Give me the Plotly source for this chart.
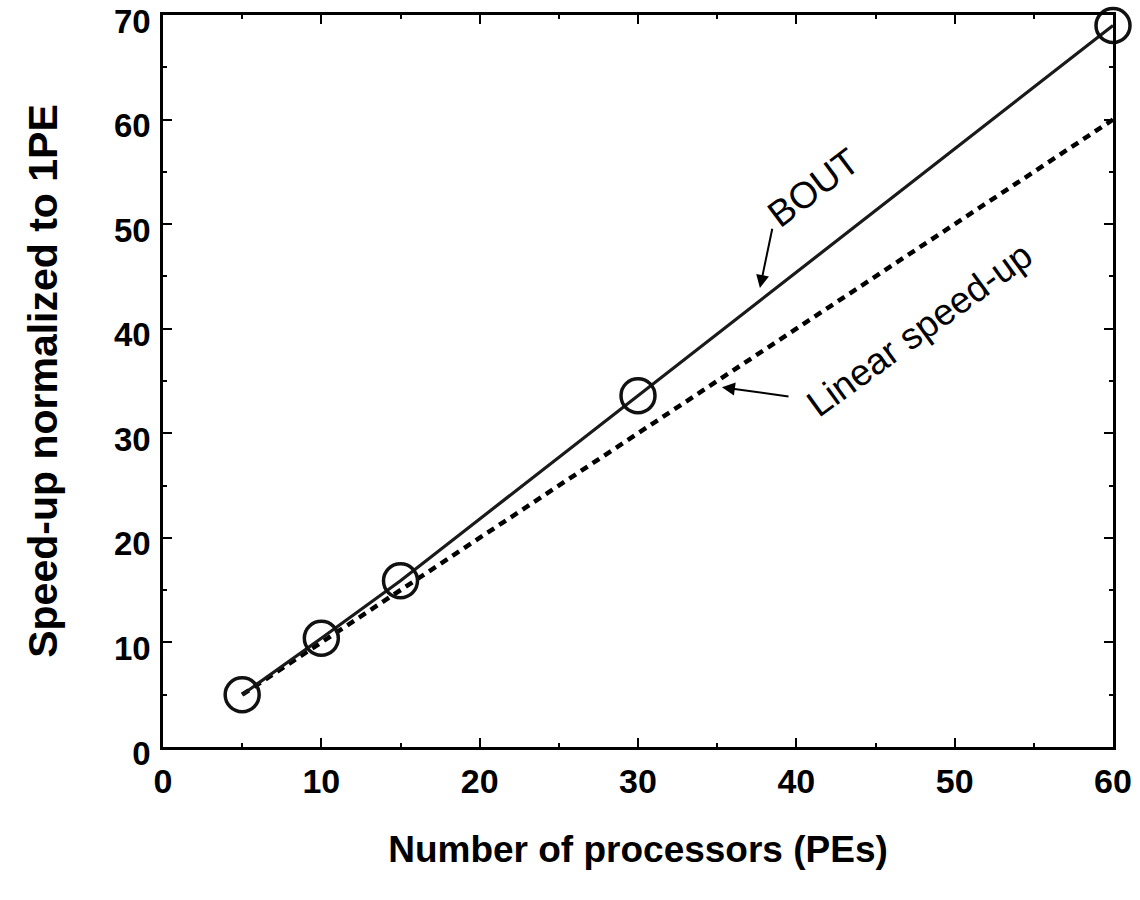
import plotly.graph_objects as go

pes = [5, 10, 15, 30, 60]
bout_speedup = [5.0, 10.4, 15.9, 33.6, 69.0]
linear_pes = [5, 60]
linear_speedup = [5, 60]

x_ticks = [0, 10, 20, 30, 40, 50, 60]
y_ticks = [0, 10, 20, 30, 40, 50, 60, 70]

FONT = "Liberation Sans, Arial, Helvetica, sans-serif"

fig = go.Figure()
fig.add_trace(go.Scatter(
    x=linear_pes, y=linear_speedup, mode="lines",
    line=dict(color="black", width=4.5, dash="8px,6px"),
    showlegend=False, hoverinfo="skip", cliponaxis=False))
fig.add_trace(go.Scatter(
    x=pes, y=bout_speedup, mode="lines+markers",
    line=dict(color="#1a1a1a", width=3.2),
    marker=dict(symbol="circle-open", size=34, color="#111",
                line=dict(width=3.5, color="#111")),
    showlegend=False, cliponaxis=False))

axis_common = dict(
    showgrid=False, zeroline=False, showline=True, linecolor="black",
    linewidth=2.5, mirror="allticks", ticks="inside", ticklen=9,
    tickwidth=2, tickcolor="black", automargin=False, ticklabeloverflow="allow",
    minor=dict(ticks="inside", ticklen=4, tickwidth=1.5, tickcolor="black", dtick=5),
)

fig.update_xaxes(range=[0, 60], tickvals=x_ticks, ticklabelstandoff=2,
                 tickfont=dict(family=FONT, size=34, color="black", weight="bold"),
                 title=dict(text="Number of processors (PEs)", standoff=38,
                            font=dict(family=FONT, size=37, color="black", weight="bold")),
                 **axis_common)
fig.update_yaxes(range=[0, 70], tickvals=y_ticks, ticklabelstandoff=3,
                 ticklabelshift=6,
                 tickfont=dict(family=FONT, size=33, color="black", weight="bold"),
                 title=dict(text="Speed-up normalized to 1PE", standoff=44,
                            font=dict(family=FONT, size=41, color="black", weight="bold")),
                 **axis_common)

# arrows
fig.add_annotation(x=37.7, y=43.9, ax=38.5, ay=49.7, xref="x", yref="y",
                   axref="x", ayref="y", text="", showarrow=True,
                   arrowhead=2, arrowsize=1.3, arrowwidth=2, arrowcolor="black")
fig.add_annotation(x=35.3, y=34.4, ax=39.6, ay=33.5, xref="x", yref="y",
                   axref="x", ayref="y", text="", showarrow=True,
                   arrowhead=2, arrowsize=1.3, arrowwidth=2, arrowcolor="black")
# labels
fig.add_annotation(x=41.1, y=53.5, xref="x", yref="y", text="BOUT",
                   showarrow=False, textangle=-37,
                   font=dict(family=FONT, size=37, color="black"))
fig.add_annotation(x=47.8, y=39.9, xref="x", yref="y", text="Linear speed-up",
                   showarrow=False, textangle=-36,
                   font=dict(family=FONT, size=37, color="black"))

fig.update_layout(
    width=1140, height=900,
    margin=dict(l=163, r=27, t=15, b=153),
    plot_bgcolor="white", paper_bgcolor="white",
)

# remove the page's default 8px body margin so the figure fills the window exactly
fig.write_html("out.html", config={"displayModeBar": False},
               post_script="document.body.style.margin='0';")
